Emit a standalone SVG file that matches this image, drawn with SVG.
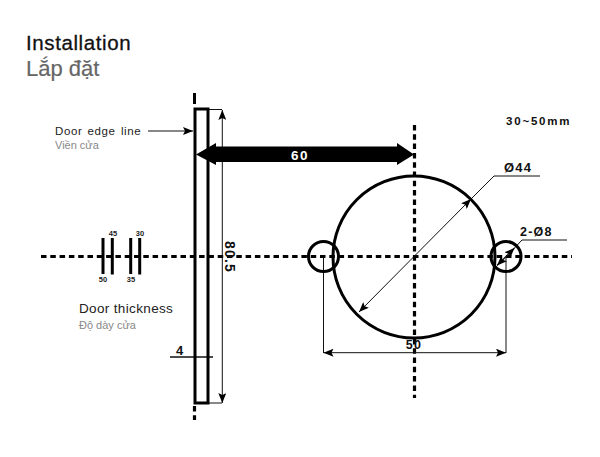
<svg xmlns="http://www.w3.org/2000/svg" width="600" height="457" viewBox="0 0 600 457">
<defs>
<style>
text{font-family:"Liberation Sans",Arial,sans-serif}
.dim{font-weight:bold;fill:#111;letter-spacing:1.200px}
.thin{fill:none;stroke:#111;stroke-width:1}
.thick{fill:none;stroke:#000;stroke-width:3}
.dash{fill:none;stroke:#000;stroke-width:3.200;stroke-dasharray:5.500 3.800}
.mark{fill:none;stroke:#000;stroke-width:3}
.en{fill:#222}
.vi{fill:#888;font-size:11px}
.tiny{font-size:7.500px;text-anchor:middle;font-weight:bold;fill:#222}
</style>
<marker id="a" markerWidth="11" markerHeight="8" refX="10" refY="4" orient="auto-start-reverse" markerUnits="userSpaceOnUse"><path d="M0 0L10 4L0 8L2 4Z" fill="#000"/></marker>
</defs>
<g id="title">
<text x="26" y="50" font-size="20.500" fill="#111" stroke="#111" stroke-width=".3" letter-spacing=".6">Installation</text>
<text x="26" y="76" font-size="22" fill="#666" stroke="#666" stroke-width=".2">Lắp đặt</text>
</g>
<g id="connectors">
<path class="dash" d="M41 256.500H572"/>
<path class="dash" d="M414.500 125V398"/>
<path class="thick" d="M194.500 93V104"/>
<path class="dash" d="M194.500 406V420"/>
<path class="thin" d="M148 131H193" marker-end="url(#a)"/>
<path class="thin" d="M208 109.500H222M208 403H222"/>
<path class="thin" d="M222.300 110V403" marker-start="url(#a)" marker-end="url(#a)"/>
<path class="thin" d="M170 357H213" style="stroke-width:1.300"/>
<path class="thin" d="M323.500 257V353M506 257V353"/>
<path class="thin" d="M323.500 352.700H506" marker-start="url(#a)" marker-end="url(#a)"/>
<path class="thin" d="M359 312L471 199" marker-start="url(#a)" marker-end="url(#a)"/>
<path class="thin" d="M470 200L494 176H540"/>
<path class="thin" d="M497 265.500L514.500 248" marker-start="url(#a)" marker-end="url(#a)" style="stroke-width:1.300"/>
<path class="thin" d="M514.500 248L522 240H567"/>
</g>
<g id="door"><rect class="thick" x="195" y="109" width="13" height="294"/></g>
<g id="holes">
<circle class="thick" cx="414" cy="257" r="81"/>
<circle class="thick" cx="323.500" cy="256.500" r="15"/>
<circle class="thick" cx="506" cy="256.500" r="15"/>
</g>
<g id="arrow-60">
<path d="M196 154.500L216 143V146.500H397V143L414 154.500L397 165V162H216V165Z" fill="#000"/>
<text x="300" y="160" font-size="13.500" font-weight="bold" fill="#fff" text-anchor="middle" letter-spacing="1.500">60</text>
</g>
<g id="thickness">
<path class="mark" d="M103 238V274M112.300 238V274.500M130.700 238V274M139.700 238V274.500"/>
<text class="tiny" x="113" y="236">45</text>
<text class="tiny" x="140" y="236">30</text>
<text class="tiny" x="103" y="282">50</text>
<text class="tiny" x="131" y="282">35</text>
<text class="en" x="79" y="313" style="font-size:13.500px;letter-spacing:.35px">Door thickness</text>
<text class="vi" x="79" y="329">Độ dày cửa</text>
</g>
<g id="labels">
<text class="en" x="55" y="135" style="font-size:11.500px;letter-spacing:.6px;word-spacing:1.500px">Door edge line</text>
<text class="vi" x="55" y="149">Viền cửa</text>
<text class="dim" x="506" y="125" font-size="11.500" style="letter-spacing:1.800px">30~50mm</text>
<text class="dim" x="504" y="172" font-size="13">Ø44</text>
<text class="dim" x="520" y="236" font-size="12.500">2-Ø8</text>
<text class="dim" x="414" y="349" font-size="12.500" text-anchor="middle">50</text>
<text class="dim" x="176" y="355" font-size="13">4</text>
<text class="dim" font-size="14" text-anchor="middle" transform="translate(224.500 257) rotate(90)">80.5</text>
</g>
</svg>
